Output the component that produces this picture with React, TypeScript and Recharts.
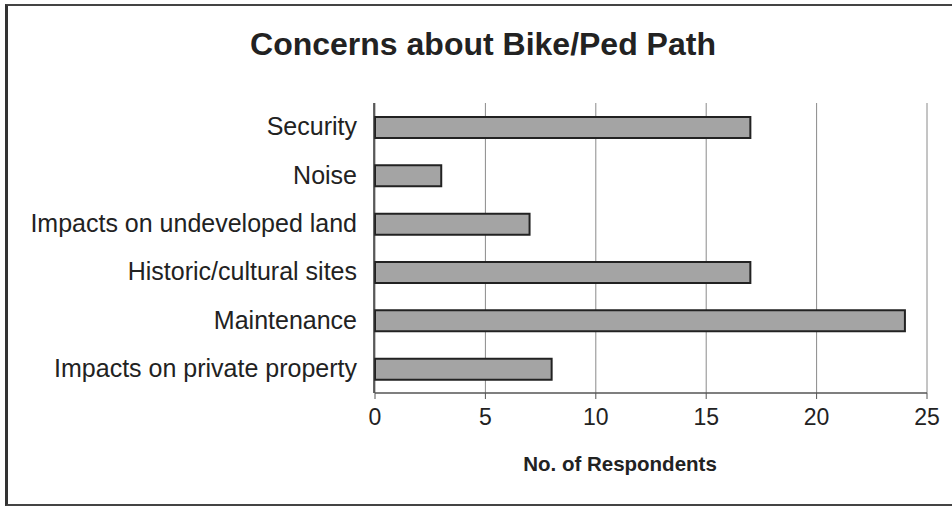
import React from 'react';
import { BarChart, Bar, XAxis, YAxis, CartesianGrid } from 'recharts';

const categories = [
  'Security',
  'Noise',
  'Impacts on undeveloped land',
  'Historic/cultural sites',
  'Maintenance',
  'Impacts on private property',
];
const respondents = [17, 3, 7, 17, 24, 8];
const xTicks = [0, 5, 10, 15, 20, 25];

const data = categories.map((c, i) => ({ name: c, value: respondents[i] }));

const FONT = '"Liberation Sans", Arial, sans-serif';

const CategoryTick = (props: any) => {
  const { x, y, payload } = props;
  return (
    <text
      x={x}
      y={y - 1}
      textAnchor="end"
      dominantBaseline="central"
      fill="#222"
      fontSize={25}
      fontFamily={FONT}
    >
      {payload.value}
    </text>
  );
};

export default function App() {
  return (
    <div style={{ position: 'absolute', left: 0, top: 0, width: 952, height: 510, overflow: 'hidden', background: '#fff' }}>
      <div
        style={{
          position: 'absolute',
          left: 5,
          top: 4,
          width: 960,
          height: 502,
          borderLeft: '3px solid #333',
          borderTop: '2px solid #444',
          borderBottom: '2px solid #444',
          boxSizing: 'border-box',
        }}
      />
      <div
        style={{
          position: 'absolute',
          left: 0,
          width: 966,
          top: 26,
          textAlign: 'center',
          fontFamily: FONT,
          fontWeight: 'bold',
          fontSize: 32,
          color: '#222',
          lineHeight: '36px',
        }}
      >
        Concerns about Bike/Ped Path
      </div>
      <div style={{ position: 'absolute', left: 0, top: 0 }}>
        <BarChart
          width={952}
          height={510}
          data={data}
          layout="vertical"
          margin={{ top: 103, right: 25, bottom: 0, left: 373 }}
          barSize={21}
        >
          <CartesianGrid horizontal={false} vertical={true} stroke="#8a8a8a" strokeWidth={1} />
          <XAxis
            type="number"
            domain={[0, 25]}
            ticks={xTicks}
            height={117}
            axisLine={{ stroke: '#555', strokeWidth: 1.5 }}
            tickLine={{ stroke: '#555' }}
            tickSize={6}
            tickMargin={10}
            tick={{ fill: '#222', fontSize: 23, fontFamily: FONT }}
            interval={0}
            label={{
              value: 'No. of Respondents',
              position: 'insideTop',
              offset: 63,
              dx: -31,
              fill: '#222',
              fontSize: 20.5,
              fontWeight: 'bold',
              fontFamily: FONT,
            }}
          />
          <XAxis
            xAxisId="top"
            orientation="top"
            type="number"
            domain={[0, 25]}
            height={0}
            tick={false}
            tickLine={false}
            axisLine={{ stroke: '#8a8a8a', strokeWidth: 1 }}
          />
          <YAxis
            type="category"
            dataKey="name"
            width={1}
            axisLine={false}
            tickLine={false}
            tickSize={0}
            tickMargin={18}
            interval={0}
            tick={<CategoryTick />}
          />
          <YAxis
            yAxisId="bands"
            type="number"
            domain={[0, 6]}
            width={1}
            tick={false}
            tickLine={false}
            axisLine={{ stroke: '#333', strokeWidth: 1.5 }}
          />
          <Bar dataKey="value" fill="#a4a4a4" stroke="#222" strokeWidth={2} isAnimationActive={false} />
        </BarChart>
      </div>
    </div>
  );
}
